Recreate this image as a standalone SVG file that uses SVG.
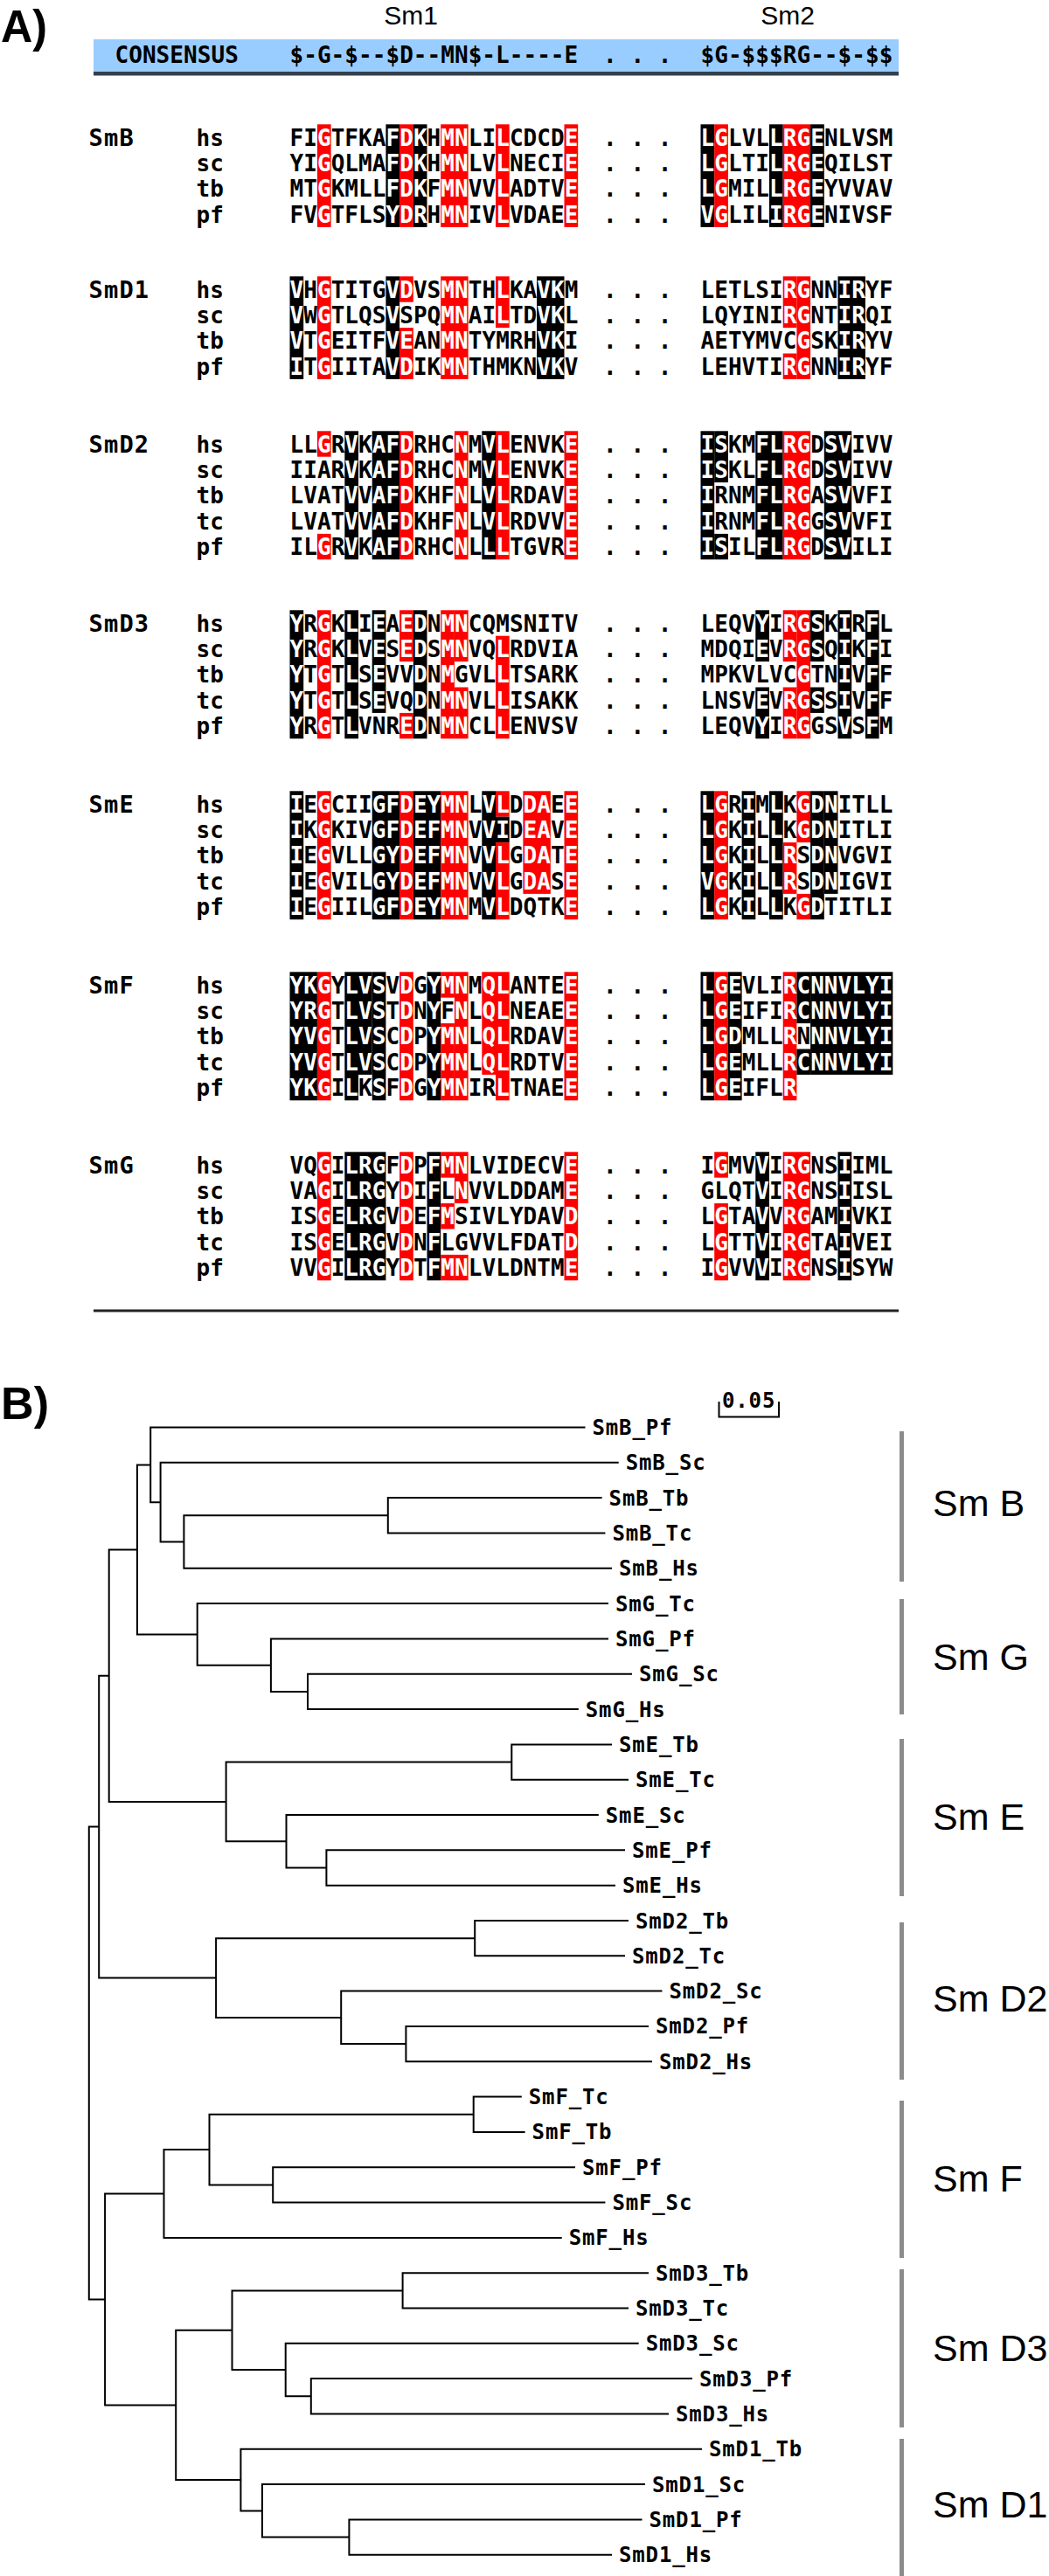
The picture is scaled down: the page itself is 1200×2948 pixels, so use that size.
<svg xmlns="http://www.w3.org/2000/svg" width="1200" height="2948" viewBox="0 0 1200 2948">
<style>
.s{font-family:"DejaVu Sans Mono","Liberation Mono",monospace;font-size:26px;font-weight:bold;letter-spacing:0.05px;fill:#000}
.w{fill:#fff}
.g{font-family:"DejaVu Sans Mono","Liberation Mono",monospace;font-size:27px;font-weight:bold;letter-spacing:1.2px;fill:#000}
.r{fill:#ff0000}
.k{fill:#000}
.hd{font-family:"Liberation Sans",Arial,sans-serif;font-size:30px;fill:#000}
.big{font-family:"Liberation Sans",Arial,sans-serif;font-size:52px;font-weight:bold;fill:#000}
.tl{font-family:"DejaVu Sans Mono","Liberation Mono",monospace;font-size:24px;font-weight:bold;letter-spacing:0.85px;fill:#000}
.cl{font-family:"Liberation Sans",Arial,sans-serif;font-size:43px;fill:#000}
.br{fill:none;stroke:#000;stroke-width:2}
.bar{stroke:#8c8c8c;stroke-width:5}
</style>
<rect width="1200" height="2948" fill="#fff"/>

<g id="partA">
<text class="big" x="1" y="48" textLength="53" lengthAdjust="spacingAndGlyphs">A)</text>
<text class="hd" x="470" y="28" text-anchor="middle">Sm1</text>
<text class="hd" x="901" y="28" text-anchor="middle">Sm2</text>
<rect x="107" y="45" width="921" height="37" fill="#99ccff"/>
<rect x="107" y="82" width="921" height="4.5" fill="#34404c"/>
<text class="s" x="131.5" y="72">CONSENSUS</text>
<text class="s" x="331.5" y="72">$-G-$--$D--MN$-L----E</text>
<text class="s" x="690" y="72">. . .</text>
<text class="s" x="801.5" y="72">$G-$$$RG--$-$$</text>
<rect x="107" y="1498.5" width="921" height="3" fill="#222"/>
</g>

<g id="SmB" transform="translate(1.5,157)">
<rect class="r" x="361.4" y="-14.7" width="15.7" height="117.6"/>
<rect class="k" x="439.9" y="-14.7" width="15.7" height="117.6"/>
<rect class="r" x="455.6" y="-14.7" width="15.7" height="117.6"/>
<rect class="k" x="471.3" y="-14.7" width="15.7" height="117.6"/>
<rect class="r" x="502.7" y="-14.7" width="31.4" height="117.6"/>
<rect class="r" x="565.5" y="-14.7" width="15.7" height="117.6"/>
<rect class="r" x="644" y="-14.7" width="15.7" height="117.6"/>
<rect class="k" x="800" y="-14.7" width="15.7" height="117.6"/>
<rect class="r" x="815.7" y="-14.7" width="15.7" height="117.6"/>
<rect class="k" x="878.5" y="-14.7" width="15.7" height="117.6"/>
<rect class="r" x="894.2" y="-14.7" width="31.4" height="117.6"/>
<rect class="k" x="925.6" y="-14.7" width="15.7" height="117.6"/>
<text class="g" x="100" y="10">SmB</text>
<text class="s" x="223" y="9.5">hs</text>
<text class="s" x="223" y="38.9">sc</text>
<text class="s" x="223" y="68.3">tb</text>
<text class="s" x="223" y="97.7">pf</text>
<text class="s" x="330" y="9.5">FI<tspan class="w">G</tspan>TFKA<tspan class="w">FDK</tspan>H<tspan class="w">MN</tspan>LI<tspan class="w">L</tspan>CDCD<tspan class="w">E</tspan></text>
<text class="s" x="330" y="38.9">YI<tspan class="w">G</tspan>QLMA<tspan class="w">FDK</tspan>H<tspan class="w">MN</tspan>LV<tspan class="w">L</tspan>NECI<tspan class="w">E</tspan></text>
<text class="s" x="330" y="68.3">MT<tspan class="w">G</tspan>KMLL<tspan class="w">FDK</tspan>F<tspan class="w">MN</tspan>VV<tspan class="w">L</tspan>ADTV<tspan class="w">E</tspan></text>
<text class="s" x="330" y="97.7">FV<tspan class="w">G</tspan>TFLS<tspan class="w">YDR</tspan>H<tspan class="w">MN</tspan>IV<tspan class="w">L</tspan>VDAE<tspan class="w">E</tspan></text>
<text class="s" x="688.5" y="9.5">. . .</text>
<text class="s" x="688.5" y="38.9">. . .</text>
<text class="s" x="688.5" y="68.3">. . .</text>
<text class="s" x="688.5" y="97.7">. . .</text>
<text class="s" x="800" y="9.5"><tspan class="w">LG</tspan>LVL<tspan class="w">LRGE</tspan>NLVSM</text>
<text class="s" x="800" y="38.9"><tspan class="w">LG</tspan>LTI<tspan class="w">LRGE</tspan>QILST</text>
<text class="s" x="800" y="68.3"><tspan class="w">LG</tspan>MIL<tspan class="w">LRGE</tspan>YVVAV</text>
<text class="s" x="800" y="97.7"><tspan class="w">VG</tspan>LIL<tspan class="w">IRGE</tspan>NIVSF</text>
</g>

<g id="SmD1" transform="translate(1.5,331)">
<rect class="k" x="330" y="-14.7" width="15.7" height="117.6"/>
<rect class="r" x="361.4" y="-14.7" width="15.7" height="117.6"/>
<rect class="k" x="439.9" y="-14.7" width="15.7" height="117.6"/>
<rect class="r" x="455.6" y="-14.7" width="15.7" height="29.4"/>
<rect class="r" x="455.6" y="44.1" width="15.7" height="58.8"/>
<rect class="r" x="502.7" y="-14.7" width="31.4" height="117.6"/>
<rect class="r" x="565.5" y="-14.7" width="15.7" height="58.8"/>
<rect class="k" x="612.6" y="-14.7" width="31.4" height="117.6"/>
<rect class="r" x="894.2" y="-14.7" width="15.7" height="58.8"/>
<rect class="r" x="894.2" y="73.5" width="15.7" height="29.4"/>
<rect class="r" x="909.9" y="-14.7" width="15.7" height="117.6"/>
<rect class="k" x="957" y="-14.7" width="31.4" height="117.6"/>
<text class="g" x="100" y="10">SmD1</text>
<text class="s" x="223" y="9.5">hs</text>
<text class="s" x="223" y="38.9">sc</text>
<text class="s" x="223" y="68.3">tb</text>
<text class="s" x="223" y="97.7">pf</text>
<text class="s" x="330" y="9.5"><tspan class="w">V</tspan>H<tspan class="w">G</tspan>TITG<tspan class="w">VD</tspan>VS<tspan class="w">MN</tspan>TH<tspan class="w">L</tspan>KA<tspan class="w">VK</tspan>M</text>
<text class="s" x="330" y="38.9"><tspan class="w">V</tspan>W<tspan class="w">G</tspan>TLQS<tspan class="w">V</tspan>SPQ<tspan class="w">MN</tspan>AI<tspan class="w">L</tspan>TD<tspan class="w">VK</tspan>L</text>
<text class="s" x="330" y="68.3"><tspan class="w">V</tspan>T<tspan class="w">G</tspan>EITF<tspan class="w">VE</tspan>AN<tspan class="w">MN</tspan>TYMRH<tspan class="w">VK</tspan>I</text>
<text class="s" x="330" y="97.7"><tspan class="w">I</tspan>T<tspan class="w">G</tspan>IITA<tspan class="w">VD</tspan>IK<tspan class="w">MN</tspan>THMKN<tspan class="w">VK</tspan>V</text>
<text class="s" x="688.5" y="9.5">. . .</text>
<text class="s" x="688.5" y="38.9">. . .</text>
<text class="s" x="688.5" y="68.3">. . .</text>
<text class="s" x="688.5" y="97.7">. . .</text>
<text class="s" x="800" y="9.5">LETLSI<tspan class="w">RG</tspan>NN<tspan class="w">IR</tspan>YF</text>
<text class="s" x="800" y="38.9">LQYINI<tspan class="w">RG</tspan>NT<tspan class="w">IR</tspan>QI</text>
<text class="s" x="800" y="68.3">AETYMVC<tspan class="w">G</tspan>SK<tspan class="w">IR</tspan>YV</text>
<text class="s" x="800" y="97.7">LEHVTI<tspan class="w">RG</tspan>NN<tspan class="w">IR</tspan>YF</text>
</g>

<g id="SmD2" transform="translate(1.5,508)">
<rect class="r" x="361.4" y="-14.7" width="15.7" height="29.4"/>
<rect class="r" x="361.4" y="102.9" width="15.7" height="29.4"/>
<rect class="k" x="392.8" y="-14.7" width="15.7" height="147"/>
<rect class="k" x="424.2" y="-14.7" width="31.4" height="147"/>
<rect class="r" x="455.6" y="-14.7" width="15.7" height="147"/>
<rect class="r" x="518.4" y="-14.7" width="15.7" height="147"/>
<rect class="k" x="549.8" y="-14.7" width="15.7" height="147"/>
<rect class="r" x="565.5" y="-14.7" width="15.7" height="147"/>
<rect class="r" x="644" y="-14.7" width="15.7" height="147"/>
<rect class="k" x="800" y="-14.7" width="15.7" height="147"/>
<rect class="k" x="815.7" y="-14.7" width="15.7" height="58.8"/>
<rect class="k" x="815.7" y="102.9" width="15.7" height="29.4"/>
<rect class="k" x="862.8" y="-14.7" width="31.4" height="147"/>
<rect class="r" x="894.2" y="-14.7" width="31.4" height="147"/>
<rect class="k" x="941.3" y="-14.7" width="31.4" height="147"/>
<text class="g" x="100" y="10">SmD2</text>
<text class="s" x="223" y="9.5">hs</text>
<text class="s" x="223" y="38.9">sc</text>
<text class="s" x="223" y="68.3">tb</text>
<text class="s" x="223" y="97.7">tc</text>
<text class="s" x="223" y="127.1">pf</text>
<text class="s" x="330" y="9.5">LL<tspan class="w">G</tspan>R<tspan class="w">V</tspan>K<tspan class="w">AFD</tspan>RHC<tspan class="w">N</tspan>M<tspan class="w">VL</tspan>ENVK<tspan class="w">E</tspan></text>
<text class="s" x="330" y="38.9">IIAR<tspan class="w">V</tspan>K<tspan class="w">AFD</tspan>RHC<tspan class="w">N</tspan>M<tspan class="w">VL</tspan>ENVK<tspan class="w">E</tspan></text>
<text class="s" x="330" y="68.3">LVAT<tspan class="w">V</tspan>V<tspan class="w">AFD</tspan>KHF<tspan class="w">N</tspan>L<tspan class="w">VL</tspan>RDAV<tspan class="w">E</tspan></text>
<text class="s" x="330" y="97.7">LVAT<tspan class="w">V</tspan>V<tspan class="w">AFD</tspan>KHF<tspan class="w">N</tspan>L<tspan class="w">VL</tspan>RDVV<tspan class="w">E</tspan></text>
<text class="s" x="330" y="127.1">IL<tspan class="w">G</tspan>R<tspan class="w">V</tspan>K<tspan class="w">AFD</tspan>RHC<tspan class="w">N</tspan>L<tspan class="w">LL</tspan>TGVR<tspan class="w">E</tspan></text>
<text class="s" x="688.5" y="9.5">. . .</text>
<text class="s" x="688.5" y="38.9">. . .</text>
<text class="s" x="688.5" y="68.3">. . .</text>
<text class="s" x="688.5" y="97.7">. . .</text>
<text class="s" x="688.5" y="127.1">. . .</text>
<text class="s" x="800" y="9.5"><tspan class="w">IS</tspan>KM<tspan class="w">FLRG</tspan>D<tspan class="w">SV</tspan>IVV</text>
<text class="s" x="800" y="38.9"><tspan class="w">IS</tspan>KL<tspan class="w">FLRG</tspan>D<tspan class="w">SV</tspan>IVV</text>
<text class="s" x="800" y="68.3"><tspan class="w">I</tspan>RNM<tspan class="w">FLRG</tspan>A<tspan class="w">SV</tspan>VFI</text>
<text class="s" x="800" y="97.7"><tspan class="w">I</tspan>RNM<tspan class="w">FLRG</tspan>G<tspan class="w">SV</tspan>VFI</text>
<text class="s" x="800" y="127.1"><tspan class="w">IS</tspan>IL<tspan class="w">FLRG</tspan>D<tspan class="w">SV</tspan>ILI</text>
</g>

<g id="SmD3" transform="translate(1.5,713)">
<rect class="k" x="330" y="-14.7" width="15.7" height="147"/>
<rect class="r" x="361.4" y="-14.7" width="15.7" height="147"/>
<rect class="k" x="392.8" y="-14.7" width="15.7" height="147"/>
<rect class="k" x="424.2" y="-14.7" width="15.7" height="117.6"/>
<rect class="r" x="455.6" y="-14.7" width="15.7" height="58.8"/>
<rect class="r" x="455.6" y="102.9" width="15.7" height="29.4"/>
<rect class="k" x="471.3" y="-14.7" width="15.7" height="147"/>
<rect class="r" x="502.7" y="-14.7" width="15.7" height="147"/>
<rect class="r" x="518.4" y="-14.7" width="15.7" height="58.8"/>
<rect class="r" x="518.4" y="73.5" width="15.7" height="58.8"/>
<rect class="r" x="565.5" y="14.7" width="15.7" height="117.6"/>
<rect class="k" x="862.8" y="-14.7" width="15.7" height="58.8"/>
<rect class="k" x="862.8" y="73.5" width="15.7" height="58.8"/>
<rect class="r" x="894.2" y="-14.7" width="15.7" height="58.8"/>
<rect class="r" x="894.2" y="73.5" width="15.7" height="58.8"/>
<rect class="r" x="909.9" y="-14.7" width="15.7" height="147"/>
<rect class="k" x="925.6" y="-14.7" width="15.7" height="58.8"/>
<rect class="k" x="925.6" y="73.5" width="15.7" height="29.4"/>
<rect class="k" x="957" y="-14.7" width="15.7" height="147"/>
<rect class="k" x="988.4" y="-14.7" width="15.7" height="147"/>
<text class="g" x="100" y="10">SmD3</text>
<text class="s" x="223" y="9.5">hs</text>
<text class="s" x="223" y="38.9">sc</text>
<text class="s" x="223" y="68.3">tb</text>
<text class="s" x="223" y="97.7">tc</text>
<text class="s" x="223" y="127.1">pf</text>
<text class="s" x="330" y="9.5"><tspan class="w">Y</tspan>R<tspan class="w">G</tspan>K<tspan class="w">L</tspan>I<tspan class="w">E</tspan>A<tspan class="w">ED</tspan>N<tspan class="w">MN</tspan>CQMSNITV</text>
<text class="s" x="330" y="38.9"><tspan class="w">Y</tspan>R<tspan class="w">G</tspan>K<tspan class="w">L</tspan>V<tspan class="w">E</tspan>S<tspan class="w">ED</tspan>S<tspan class="w">MN</tspan>VQ<tspan class="w">L</tspan>RDVIA</text>
<text class="s" x="330" y="68.3"><tspan class="w">Y</tspan>T<tspan class="w">G</tspan>T<tspan class="w">L</tspan>S<tspan class="w">E</tspan>VV<tspan class="w">D</tspan>N<tspan class="w">M</tspan>GVL<tspan class="w">L</tspan>TSARK</text>
<text class="s" x="330" y="97.7"><tspan class="w">Y</tspan>T<tspan class="w">G</tspan>T<tspan class="w">L</tspan>S<tspan class="w">E</tspan>VQ<tspan class="w">D</tspan>N<tspan class="w">MN</tspan>VL<tspan class="w">L</tspan>ISAKK</text>
<text class="s" x="330" y="127.1"><tspan class="w">Y</tspan>R<tspan class="w">G</tspan>T<tspan class="w">L</tspan>VNR<tspan class="w">ED</tspan>N<tspan class="w">MN</tspan>CL<tspan class="w">L</tspan>ENVSV</text>
<text class="s" x="688.5" y="9.5">. . .</text>
<text class="s" x="688.5" y="38.9">. . .</text>
<text class="s" x="688.5" y="68.3">. . .</text>
<text class="s" x="688.5" y="97.7">. . .</text>
<text class="s" x="688.5" y="127.1">. . .</text>
<text class="s" x="800" y="9.5">LEQV<tspan class="w">Y</tspan>I<tspan class="w">RGS</tspan>K<tspan class="w">I</tspan>R<tspan class="w">F</tspan>L</text>
<text class="s" x="800" y="38.9">MDQI<tspan class="w">E</tspan>V<tspan class="w">RGS</tspan>Q<tspan class="w">I</tspan>K<tspan class="w">F</tspan>I</text>
<text class="s" x="800" y="68.3">MPKVLVC<tspan class="w">G</tspan>TN<tspan class="w">I</tspan>V<tspan class="w">F</tspan>F</text>
<text class="s" x="800" y="97.7">LNSV<tspan class="w">E</tspan>V<tspan class="w">RGS</tspan>S<tspan class="w">I</tspan>V<tspan class="w">F</tspan>F</text>
<text class="s" x="800" y="127.1">LEQV<tspan class="w">Y</tspan>I<tspan class="w">RG</tspan>GS<tspan class="w">V</tspan>S<tspan class="w">F</tspan>M</text>
</g>

<g id="SmE" transform="translate(1.5,920)">
<rect class="k" x="330" y="-14.7" width="15.7" height="147"/>
<rect class="r" x="361.4" y="-14.7" width="15.7" height="147"/>
<rect class="k" x="424.2" y="-14.7" width="31.4" height="147"/>
<rect class="r" x="455.6" y="-14.7" width="15.7" height="147"/>
<rect class="k" x="471.3" y="-14.7" width="31.4" height="147"/>
<rect class="r" x="502.7" y="-14.7" width="31.4" height="147"/>
<rect class="k" x="549.8" y="-14.7" width="15.7" height="147"/>
<rect class="r" x="565.5" y="-14.7" width="15.7" height="29.4"/>
<rect class="k" x="565.5" y="14.7" width="15.7" height="29.4"/>
<rect class="r" x="565.5" y="44.1" width="15.7" height="88.2"/>
<rect class="r" x="596.9" y="-14.7" width="31.4" height="117.6"/>
<rect class="r" x="644" y="-14.7" width="15.7" height="147"/>
<rect class="k" x="800" y="-14.7" width="15.7" height="147"/>
<rect class="r" x="815.7" y="-14.7" width="15.7" height="147"/>
<rect class="k" x="847.1" y="-14.7" width="15.7" height="147"/>
<rect class="k" x="878.5" y="-14.7" width="15.7" height="147"/>
<rect class="r" x="894.2" y="44.1" width="15.7" height="58.8"/>
<rect class="r" x="909.9" y="-14.7" width="15.7" height="58.8"/>
<rect class="r" x="909.9" y="102.9" width="15.7" height="29.4"/>
<rect class="k" x="925.6" y="-14.7" width="15.7" height="147"/>
<rect class="k" x="941.3" y="-14.7" width="15.7" height="117.6"/>
<text class="g" x="100" y="10">SmE</text>
<text class="s" x="223" y="9.5">hs</text>
<text class="s" x="223" y="38.9">sc</text>
<text class="s" x="223" y="68.3">tb</text>
<text class="s" x="223" y="97.7">tc</text>
<text class="s" x="223" y="127.1">pf</text>
<text class="s" x="330" y="9.5"><tspan class="w">I</tspan>E<tspan class="w">G</tspan>CII<tspan class="w">GFDEYMN</tspan>L<tspan class="w">VL</tspan>D<tspan class="w">DA</tspan>E<tspan class="w">E</tspan></text>
<text class="s" x="330" y="38.9"><tspan class="w">I</tspan>K<tspan class="w">G</tspan>KIV<tspan class="w">GFDEFMN</tspan>V<tspan class="w">VI</tspan>D<tspan class="w">EA</tspan>V<tspan class="w">E</tspan></text>
<text class="s" x="330" y="68.3"><tspan class="w">I</tspan>E<tspan class="w">G</tspan>VLL<tspan class="w">GYDEFMN</tspan>V<tspan class="w">VL</tspan>G<tspan class="w">DA</tspan>T<tspan class="w">E</tspan></text>
<text class="s" x="330" y="97.7"><tspan class="w">I</tspan>E<tspan class="w">G</tspan>VIL<tspan class="w">GYDEFMN</tspan>V<tspan class="w">VL</tspan>G<tspan class="w">DA</tspan>S<tspan class="w">E</tspan></text>
<text class="s" x="330" y="127.1"><tspan class="w">I</tspan>E<tspan class="w">G</tspan>IIL<tspan class="w">GFDEYMN</tspan>M<tspan class="w">VL</tspan>DQTK<tspan class="w">E</tspan></text>
<text class="s" x="688.5" y="9.5">. . .</text>
<text class="s" x="688.5" y="38.9">. . .</text>
<text class="s" x="688.5" y="68.3">. . .</text>
<text class="s" x="688.5" y="97.7">. . .</text>
<text class="s" x="688.5" y="127.1">. . .</text>
<text class="s" x="800" y="9.5"><tspan class="w">LG</tspan>R<tspan class="w">I</tspan>M<tspan class="w">L</tspan>K<tspan class="w">GDN</tspan>ITLL</text>
<text class="s" x="800" y="38.9"><tspan class="w">LG</tspan>K<tspan class="w">I</tspan>L<tspan class="w">L</tspan>K<tspan class="w">GDN</tspan>ITLI</text>
<text class="s" x="800" y="68.3"><tspan class="w">LG</tspan>K<tspan class="w">I</tspan>L<tspan class="w">LR</tspan>S<tspan class="w">DN</tspan>VGVI</text>
<text class="s" x="800" y="97.7"><tspan class="w">VG</tspan>K<tspan class="w">I</tspan>L<tspan class="w">LR</tspan>S<tspan class="w">DN</tspan>IGVI</text>
<text class="s" x="800" y="127.1"><tspan class="w">LG</tspan>K<tspan class="w">I</tspan>L<tspan class="w">L</tspan>K<tspan class="w">GD</tspan>TITLI</text>
</g>

<g id="SmF" transform="translate(1.5,1127)">
<rect class="k" x="330" y="-14.7" width="31.4" height="147"/>
<rect class="r" x="361.4" y="-14.7" width="15.7" height="147"/>
<rect class="k" x="392.8" y="-14.7" width="15.7" height="147"/>
<rect class="k" x="408.5" y="-14.7" width="15.7" height="117.6"/>
<rect class="k" x="424.2" y="-14.7" width="15.7" height="147"/>
<rect class="r" x="455.6" y="-14.7" width="15.7" height="147"/>
<rect class="k" x="487" y="-14.7" width="15.7" height="147"/>
<rect class="r" x="502.7" y="-14.7" width="15.7" height="29.4"/>
<rect class="r" x="502.7" y="44.1" width="15.7" height="88.2"/>
<rect class="r" x="518.4" y="-14.7" width="15.7" height="147"/>
<rect class="r" x="549.8" y="-14.7" width="15.7" height="117.6"/>
<rect class="r" x="565.5" y="-14.7" width="15.7" height="147"/>
<rect class="r" x="644" y="-14.7" width="15.7" height="147"/>
<rect class="k" x="800" y="-14.7" width="15.7" height="147"/>
<rect class="r" x="815.7" y="-14.7" width="15.7" height="147"/>
<rect class="k" x="831.4" y="-14.7" width="15.7" height="147"/>
<rect class="r" x="894.2" y="-14.7" width="15.7" height="147"/>
<rect class="k" x="909.9" y="-14.7" width="15.7" height="58.8"/>
<rect class="k" x="909.9" y="73.5" width="15.7" height="29.4"/>
<rect class="k" x="925.6" y="-14.7" width="94.2" height="117.6"/>
<text class="g" x="100" y="10">SmF</text>
<text class="s" x="223" y="9.5">hs</text>
<text class="s" x="223" y="38.9">sc</text>
<text class="s" x="223" y="68.3">tb</text>
<text class="s" x="223" y="97.7">tc</text>
<text class="s" x="223" y="127.1">pf</text>
<text class="s" x="330" y="9.5"><tspan class="w">YKG</tspan>Y<tspan class="w">LVS</tspan>V<tspan class="w">D</tspan>G<tspan class="w">YMN</tspan>M<tspan class="w">QL</tspan>ANTE<tspan class="w">E</tspan></text>
<text class="s" x="330" y="38.9"><tspan class="w">YRG</tspan>T<tspan class="w">LVS</tspan>T<tspan class="w">D</tspan>N<tspan class="w">Y</tspan>F<tspan class="w">N</tspan>L<tspan class="w">QL</tspan>NEAE<tspan class="w">E</tspan></text>
<text class="s" x="330" y="68.3"><tspan class="w">YVG</tspan>T<tspan class="w">LVS</tspan>C<tspan class="w">D</tspan>P<tspan class="w">YMN</tspan>L<tspan class="w">QL</tspan>RDAV<tspan class="w">E</tspan></text>
<text class="s" x="330" y="97.7"><tspan class="w">YVG</tspan>T<tspan class="w">LVS</tspan>C<tspan class="w">D</tspan>P<tspan class="w">YMN</tspan>L<tspan class="w">QL</tspan>RDTV<tspan class="w">E</tspan></text>
<text class="s" x="330" y="127.1"><tspan class="w">YKG</tspan>I<tspan class="w">L</tspan>K<tspan class="w">S</tspan>F<tspan class="w">D</tspan>G<tspan class="w">YMN</tspan>IR<tspan class="w">L</tspan>TNAE<tspan class="w">E</tspan></text>
<text class="s" x="688.5" y="9.5">. . .</text>
<text class="s" x="688.5" y="38.9">. . .</text>
<text class="s" x="688.5" y="68.3">. . .</text>
<text class="s" x="688.5" y="97.7">. . .</text>
<text class="s" x="688.5" y="127.1">. . .</text>
<text class="s" x="800" y="9.5"><tspan class="w">LGE</tspan>VLI<tspan class="w">RCNNVLYI</tspan></text>
<text class="s" x="800" y="38.9"><tspan class="w">LGE</tspan>IFI<tspan class="w">RCNNVLYI</tspan></text>
<text class="s" x="800" y="68.3"><tspan class="w">LGD</tspan>MLL<tspan class="w">R</tspan>N<tspan class="w">NNVLYI</tspan></text>
<text class="s" x="800" y="97.7"><tspan class="w">LGE</tspan>MLL<tspan class="w">RCNNVLYI</tspan></text>
<text class="s" x="800" y="127.1"><tspan class="w">LGE</tspan>IFL<tspan class="w">R</tspan></text>
</g>

<g id="SmG" transform="translate(1.5,1333)">
<rect class="r" x="361.4" y="-14.7" width="15.7" height="147"/>
<rect class="k" x="392.8" y="-14.7" width="47.1" height="147"/>
<rect class="r" x="455.6" y="-14.7" width="15.7" height="147"/>
<rect class="k" x="487" y="-14.7" width="15.7" height="147"/>
<rect class="r" x="502.7" y="-14.7" width="15.7" height="29.4"/>
<rect class="r" x="502.7" y="44.1" width="15.7" height="29.4"/>
<rect class="r" x="502.7" y="102.9" width="15.7" height="29.4"/>
<rect class="r" x="518.4" y="-14.7" width="15.7" height="58.8"/>
<rect class="r" x="518.4" y="102.9" width="15.7" height="29.4"/>
<rect class="r" x="644" y="-14.7" width="15.7" height="147"/>
<rect class="r" x="815.7" y="-14.7" width="15.7" height="29.4"/>
<rect class="r" x="815.7" y="44.1" width="15.7" height="88.2"/>
<rect class="k" x="862.8" y="-14.7" width="15.7" height="147"/>
<rect class="r" x="894.2" y="-14.7" width="31.4" height="147"/>
<rect class="k" x="957" y="-14.7" width="15.7" height="147"/>
<text class="g" x="100" y="10">SmG</text>
<text class="s" x="223" y="9.5">hs</text>
<text class="s" x="223" y="38.9">sc</text>
<text class="s" x="223" y="68.3">tb</text>
<text class="s" x="223" y="97.7">tc</text>
<text class="s" x="223" y="127.1">pf</text>
<text class="s" x="330" y="9.5">VQ<tspan class="w">G</tspan>I<tspan class="w">LRG</tspan>F<tspan class="w">D</tspan>P<tspan class="w">FMN</tspan>LVIDECV<tspan class="w">E</tspan></text>
<text class="s" x="330" y="38.9">VA<tspan class="w">G</tspan>I<tspan class="w">LRG</tspan>Y<tspan class="w">D</tspan>I<tspan class="w">F</tspan>L<tspan class="w">N</tspan>VVLDDAM<tspan class="w">E</tspan></text>
<text class="s" x="330" y="68.3">IS<tspan class="w">G</tspan>E<tspan class="w">LRG</tspan>V<tspan class="w">D</tspan>E<tspan class="w">FM</tspan>SIVLYDAV<tspan class="w">D</tspan></text>
<text class="s" x="330" y="97.7">IS<tspan class="w">G</tspan>E<tspan class="w">LRG</tspan>V<tspan class="w">D</tspan>N<tspan class="w">F</tspan>LGVVLFDAT<tspan class="w">D</tspan></text>
<text class="s" x="330" y="127.1">VV<tspan class="w">G</tspan>I<tspan class="w">LRG</tspan>Y<tspan class="w">D</tspan>T<tspan class="w">FMN</tspan>LVLDNTM<tspan class="w">E</tspan></text>
<text class="s" x="688.5" y="9.5">. . .</text>
<text class="s" x="688.5" y="38.9">. . .</text>
<text class="s" x="688.5" y="68.3">. . .</text>
<text class="s" x="688.5" y="97.7">. . .</text>
<text class="s" x="688.5" y="127.1">. . .</text>
<text class="s" x="800" y="9.5">I<tspan class="w">G</tspan>MV<tspan class="w">V</tspan>I<tspan class="w">RG</tspan>NS<tspan class="w">I</tspan>IML</text>
<text class="s" x="800" y="38.9">GLQT<tspan class="w">V</tspan>I<tspan class="w">RG</tspan>NS<tspan class="w">I</tspan>ISL</text>
<text class="s" x="800" y="68.3">L<tspan class="w">G</tspan>TA<tspan class="w">V</tspan>V<tspan class="w">RG</tspan>AM<tspan class="w">I</tspan>VKI</text>
<text class="s" x="800" y="97.7">L<tspan class="w">G</tspan>TT<tspan class="w">V</tspan>I<tspan class="w">RG</tspan>TA<tspan class="w">I</tspan>VEI</text>
<text class="s" x="800" y="127.1">I<tspan class="w">G</tspan>VV<tspan class="w">V</tspan>I<tspan class="w">RG</tspan>NS<tspan class="w">I</tspan>SYW</text>
</g>

<g id="partB">
<text class="big" x="1" y="1624" textLength="55" lengthAdjust="spacingAndGlyphs">B)</text>
<g id="scalebar">
<path class="br" d="M822.5 1604V1621.6H891V1604"/>
<text class="tl" x="826" y="1611">0.05</text>
</g>
</g>

<g id="connectors">
<path class="br" d="M688.6 1714.1H443.8V1754.5H692.4 M443.8 1734.3H210.4V1794.8H700 M707.7 1673.8H183.6V1764.6H210.4 M669.5 1633.5H172.2V1719.2H183.6 M723 1915.7H352V1956.1H661.8 M696 1875.4H309.9V1935.9H352 M696 1835.1H225.7V1905.7H309.9 M172.2 1676.4H156.9V1870.4H225.7 M700 1996.4H585.3V2036.7H719 M715 2117.3H373.4V2157.7H704 M684.8 2077H327.5V2137.5H373.4 M585.3 2016.6H258.6V2107.3H327.5 M156.9 1773.4H124.7V2062H258.6 M719 2198H543.2V2238.3H715 M742 2318.9H464.4V2359.3H746 M757.5 2278.6H390.2V2339.1H464.4 M543.2 2218.2H247.1V2308.9H390.2 M124.7 1917.7H113.2V2263.5H247.1 M596.8 2399.6H541.7V2439.9H600.6 M658 2480.2H312.2V2520.5H692.4 M541.7 2419.8H239.5V2500.4H312.2 M239.5 2460.1H187.5V2560.9H642.7 M742 2601.2H460.6V2641.5H719 M792 2722.1H355.8V2762.5H765 M730.7 2681.8H326.7V2742.3H355.8 M460.6 2621.4H265.5V2712.1H326.7 M734.5 2883.4H399.4V2923.7H700 M738 2843.1H299.9V2903.6H399.4 M803 2802.8H275.4V2873.4H299.9 M265.5 2666.8H201.2V2838.1H275.4 M187.5 2510.5H120.1V2752.5H201.2 M113.2 2090.6H101.8V2631.5H120.1"/>
</g>

<g id="leaves">
<g id="leaf-SmB_Pf"><text class="tl" x="677.5" y="1642">SmB_Pf</text></g>
<g id="leaf-SmB_Sc"><text class="tl" x="715.7" y="1682.3">SmB_Sc</text></g>
<g id="leaf-SmB_Tb"><text class="tl" x="696.6" y="1722.6">SmB_Tb</text></g>
<g id="leaf-SmB_Tc"><text class="tl" x="700.4" y="1763">SmB_Tc</text></g>
<g id="leaf-SmB_Hs"><text class="tl" x="708" y="1803.3">SmB_Hs</text></g>
<g id="leaf-SmG_Tc"><text class="tl" x="704" y="1843.6">SmG_Tc</text></g>
<g id="leaf-SmG_Pf"><text class="tl" x="704" y="1883.9">SmG_Pf</text></g>
<g id="leaf-SmG_Sc"><text class="tl" x="731" y="1924.2">SmG_Sc</text></g>
<g id="leaf-SmG_Hs"><text class="tl" x="669.8" y="1964.6">SmG_Hs</text></g>
<g id="leaf-SmE_Tb"><text class="tl" x="708" y="2004.9">SmE_Tb</text></g>
<g id="leaf-SmE_Tc"><text class="tl" x="727" y="2045.2">SmE_Tc</text></g>
<g id="leaf-SmE_Sc"><text class="tl" x="692.8" y="2085.5">SmE_Sc</text></g>
<g id="leaf-SmE_Pf"><text class="tl" x="723" y="2125.8">SmE_Pf</text></g>
<g id="leaf-SmE_Hs"><text class="tl" x="712" y="2166.2">SmE_Hs</text></g>
<g id="leaf-SmD2_Tb"><text class="tl" x="727" y="2206.5">SmD2_Tb</text></g>
<g id="leaf-SmD2_Tc"><text class="tl" x="723" y="2246.8">SmD2_Tc</text></g>
<g id="leaf-SmD2_Sc"><text class="tl" x="765.5" y="2287.1">SmD2_Sc</text></g>
<g id="leaf-SmD2_Pf"><text class="tl" x="750" y="2327.4">SmD2_Pf</text></g>
<g id="leaf-SmD2_Hs"><text class="tl" x="754" y="2367.8">SmD2_Hs</text></g>
<g id="leaf-SmF_Tc"><text class="tl" x="604.8" y="2408.1">SmF_Tc</text></g>
<g id="leaf-SmF_Tb"><text class="tl" x="608.6" y="2448.4">SmF_Tb</text></g>
<g id="leaf-SmF_Pf"><text class="tl" x="666" y="2488.7">SmF_Pf</text></g>
<g id="leaf-SmF_Sc"><text class="tl" x="700.4" y="2529">SmF_Sc</text></g>
<g id="leaf-SmF_Hs"><text class="tl" x="650.7" y="2569.4">SmF_Hs</text></g>
<g id="leaf-SmD3_Tb"><text class="tl" x="750" y="2609.7">SmD3_Tb</text></g>
<g id="leaf-SmD3_Tc"><text class="tl" x="727" y="2650">SmD3_Tc</text></g>
<g id="leaf-SmD3_Sc"><text class="tl" x="738.7" y="2690.3">SmD3_Sc</text></g>
<g id="leaf-SmD3_Pf"><text class="tl" x="800" y="2730.6">SmD3_Pf</text></g>
<g id="leaf-SmD3_Hs"><text class="tl" x="773" y="2771">SmD3_Hs</text></g>
<g id="leaf-SmD1_Tb"><text class="tl" x="811" y="2811.3">SmD1_Tb</text></g>
<g id="leaf-SmD1_Sc"><text class="tl" x="746" y="2851.6">SmD1_Sc</text></g>
<g id="leaf-SmD1_Pf"><text class="tl" x="742.5" y="2891.9">SmD1_Pf</text></g>
<g id="leaf-SmD1_Hs"><text class="tl" x="708" y="2932.2">SmD1_Hs</text></g>
</g>

<g id="clades">
<g id="clade-SmB"><line class="bar" x1="1031.5" y1="1638" x2="1031.5" y2="1810"/><text class="cl" x="1067" y="1734.5">Sm B</text></g>
<g id="clade-SmG"><line class="bar" x1="1031.5" y1="1830" x2="1031.5" y2="1962"/><text class="cl" x="1067" y="1910.5">Sm G</text></g>
<g id="clade-SmE"><line class="bar" x1="1031.5" y1="1990" x2="1031.5" y2="2170"/><text class="cl" x="1067" y="2093.5">Sm E</text></g>
<g id="clade-SmD2"><line class="bar" x1="1031.5" y1="2200" x2="1031.5" y2="2380"/><text class="cl" x="1067" y="2301.5">Sm D2</text></g>
<g id="clade-SmF"><line class="bar" x1="1031.5" y1="2404" x2="1031.5" y2="2584"/><text class="cl" x="1067" y="2507.5">Sm F</text></g>
<g id="clade-SmD3"><line class="bar" x1="1031.5" y1="2597" x2="1031.5" y2="2778"/><text class="cl" x="1067" y="2701.5">Sm D3</text></g>
<g id="clade-SmD1"><line class="bar" x1="1031.5" y1="2791" x2="1031.5" y2="2948"/><text class="cl" x="1067" y="2881">Sm D1</text></g>
</g>
</svg>
